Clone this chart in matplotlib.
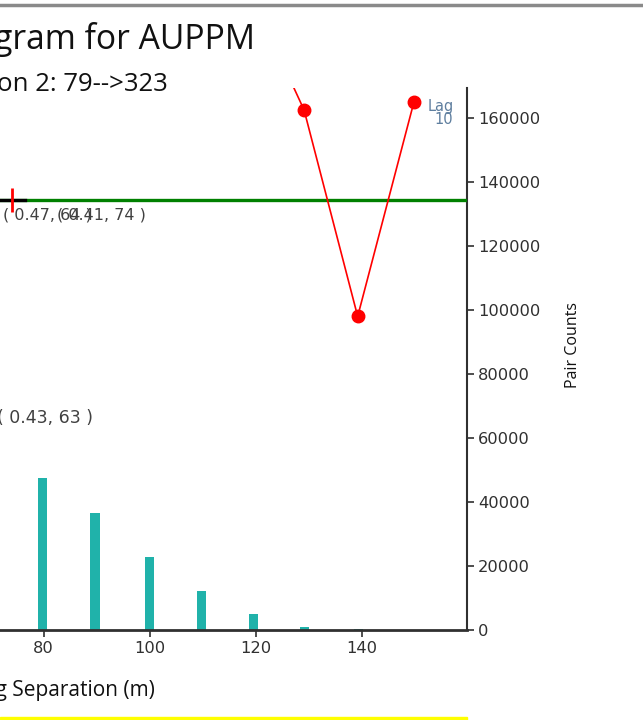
import matplotlib
matplotlib.use("Agg")
import matplotlib.pyplot as plt
from matplotlib.lines import Line2D
from matplotlib.patches import Rectangle

# ---- data ----
lags = [79.9, 89.7, 99.9, 109.7, 119.5, 129.2, 139.3]
pair_counts = [47500, 36500, 22800, 12200, 5000, 1000, 300]

vario_x = [119.5, 129.1, 139.2, 149.8]
vario_y = [197000, 162500, 98000, 165000]

sill = 134375
nugget_x = [71.8, 76.5]
red_tick_x = [74.0]

yticks = [0, 20000, 40000, 60000, 80000, 100000, 120000, 140000, 160000]
xticks = [80, 100, 120, 140]

title = "Variogram for AUPPM"
subtitle = "Direction 2: 79-->323"
xlabel = "Lag Separation (m)"
ylabel = "Pair Counts"
ann1 = ["( 0.47, 64 )", "( 0.41, 74 )"]
ann2 = "( 0.43, 63 )"
lag_label = "Lag\n10"

W, H = 643, 720
fig = plt.figure(figsize=(W / 100, H / 100), dpi=100)


def fx(px):
    return px / W


def fy(py):
    return (H - py) / H


ax = fig.add_axes([0, fy(630), fx(467), (630 - 88) / H])
ax.set_xlim(71.8, 159.8)
ax.set_ylim(0, 169375)

ax.bar(lags, pair_counts, width=1.7, color="#20B2AA", zorder=2)

ax.axhline(sill, color="#008000", lw=2.4, zorder=3)
ax.plot(nugget_x, [sill, sill], color="black", lw=2.4, zorder=3.5)
ax.plot(red_tick_x, [sill], marker="|", color="red", ms=17, mew=2, zorder=4)

ax.plot(vario_x, vario_y, color="red", lw=1.2, zorder=4)
ax.plot(vario_x[1:], vario_y[1:], "o", color="red", ms=9, zorder=5)

ax.annotate(lag_label, xy=(vario_x[-1], vario_y[-1]), xytext=(28.5, 2),
            textcoords="offset points", ha="right", va="top",
            fontsize=10.5, color="#5f7f9f", linespacing=0.8)

# annotations
fig.text(fx(3), fy(220), ann1[0], fontsize=11.5, color="#404040",
         va="baseline")
fig.text(fx(57), fy(220), ann1[1], fontsize=11.5, color="#404040",
         va="baseline")
fig.text(fx(-3), fy(423), ann2, fontsize=12.5, color="#404040",
         va="baseline")

for s in ["left", "top"]:
    ax.spines[s].set_visible(False)
ax.spines["right"].set_color("#303030")
ax.spines["right"].set_linewidth(1.5)
ax.spines["bottom"].set_color("#303030")
ax.spines["bottom"].set_linewidth(2)

ax.yaxis.tick_right()
ax.set_yticks(yticks)
ax.set_yticklabels([str(v) for v in yticks])
ax.tick_params(axis="y", direction="out", length=5, width=1.2, pad=3,
               labelsize=11.7, colors="#303030", left=False)
ax.set_xticks(xticks)
ax.tick_params(axis="x", direction="out", length=5, width=1.2, pad=3,
               labelsize=11.7, colors="#303030")

fig.text(fx(255), fy(49), title, ha="right", va="baseline",
         fontsize=24.2, family="Open Sans", color="#111111")
fig.text(fx(168), fy(91), subtitle, ha="right", va="baseline",
         fontsize=18.5, family="Open Sans", color="#111111")
fig.text(fx(155), fy(696), xlabel, ha="right", va="baseline",
         fontsize=15, family="Open Sans", color="#111111")
fig.text(fx(573), fy(345), ylabel, ha="center", va="center", rotation=90,
         fontsize=11.5, family="Open Sans", color="#111111")

# frame decorations
fig.add_artist(Line2D([0, 1], [fy(5), fy(5)], color="#8a8a8a", lw=2.5,
                      transform=fig.transFigure))
fig.add_artist(Rectangle((0, 0), fx(467), 3 / H, color="#ffff00",
                         transform=fig.transFigure))

fig.savefig("out.png", dpi=100)
